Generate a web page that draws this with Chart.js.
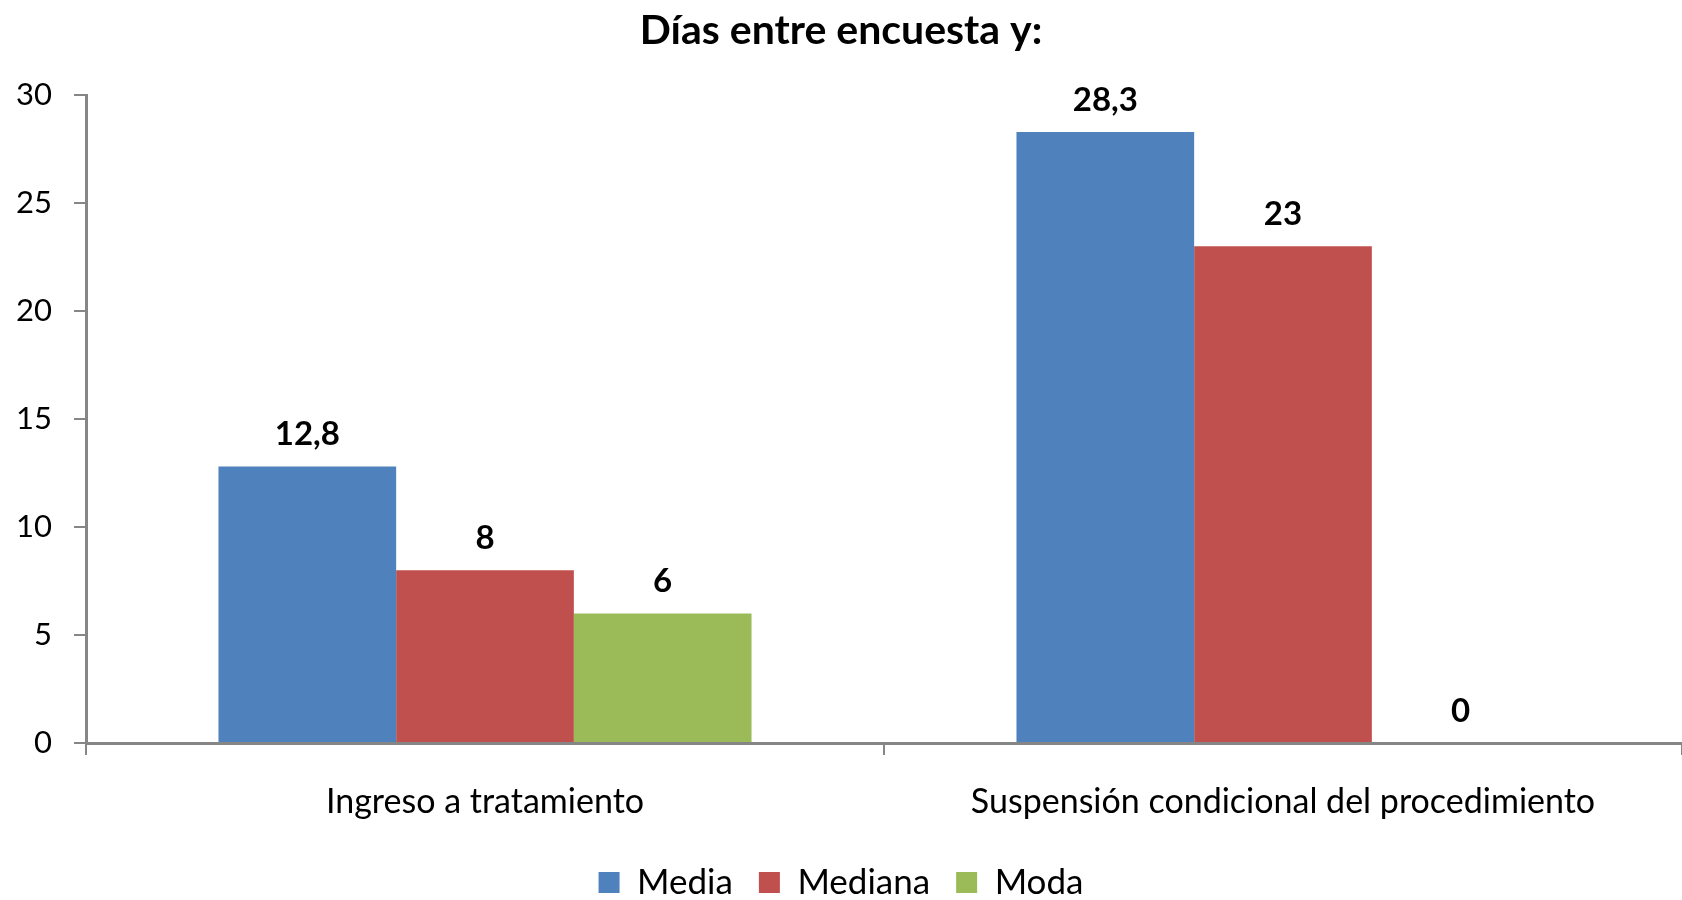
<!DOCTYPE html>
<html>
<head>
<meta charset="utf-8">
<script src="https://cdn.jsdelivr.net/npm/chart.js@4.4.0/dist/chart.umd.min.js"></script>
<style>
  body { margin: 0; background: #fff; }
  #wrap { width: 1682px; height: 900px; }
</style>
</head>
<body>
<div id="wrap"><canvas id="diasChart" width="1682" height="900"></canvas></div>
<script>
// data
let categories = ["Ingreso a tratamiento", "Suspensión condicional del procedimiento"];
let media = [12.8, 28.3];
let mediana = [8, 23];
let moda = [6, 0];
let yTicks = [0, 5, 10, 15, 20, 25, 30];

let axisGrey = "#868686";

// writes the value above each bar, with a decimal comma
let valueLabels = {
    id: "valueLabels",
    afterDatasetsDraw(chart) {
        let ctx = chart.ctx;
        ctx.save();
        ctx.font = "bold 33px Lato";
        ctx.fillStyle = "#000";
        ctx.textAlign = "center";
        ctx.textBaseline = "middle";
        chart.data.datasets.forEach((ds, i) => {
            chart.getDatasetMeta(i).data.forEach((bar, j) => {
                let txt = String(ds.data[j]).replace(".", ",");
                ctx.fillText(txt, bar.x, bar.y - 32);
            });
        });
        ctx.restore();
    }
};

let ctx = document.getElementById("diasChart").getContext("2d");
let chart = new Chart(ctx, {
    type: "bar",
    data: {
        labels: categories,
        datasets: [
            { label: "Media", data: media, backgroundColor: "#4F81BD" },
            { label: "Mediana", data: mediana, backgroundColor: "#C0504D" },
            { label: "Moda", data: moda, backgroundColor: "#9BBB59" }
        ]
    },
    options: {
        responsive: false,
        animation: false,
        layout: { padding: { left: 0, right: 0, top: 0, bottom: -10 } },
        datasets: {
            bar: { categoryPercentage: 0.668, barPercentage: 1.0, borderWidth: 0 }
        },
        plugins: {
            title: {
                display: true,
                text: "Días entre encuesta y:",
                color: "#000",
                font: { family: "Lato", size: 41, weight: "bold" },
                padding: { top: 6, bottom: 40 }
            },
            legend: {
                position: "bottom",
                labels: {
                    color: "#000",
                    font: { family: "Lato", size: 35 },
                    boxWidth: 21,
                    boxHeight: 21,
                    padding: 26
                }
            },
            tooltip: { enabled: false }
        },
        scales: {
            x: {
                afterFit(axis) {
                    axis.height = 96;
                },
                grid: {
                    display: true,
                    drawOnChartArea: false,
                    drawTicks: true,
                    tickLength: 12,
                    color: axisGrey,
                    lineWidth: 2
                },
                border: { color: axisGrey, width: 3 },
                ticks: {
                    color: "#000",
                    font: { family: "Lato", size: 34 },
                    padding: 27
                }
            },
            y: {
                min: 0,
                max: 30,
                afterBuildTicks(axis) {
                    axis.ticks = yTicks.map(v => ({ value: v }));
                },
                afterFit(axis) {
                    axis.width = 86;
                },
                grid: {
                    display: true,
                    drawOnChartArea: false,
                    drawTicks: true,
                    tickLength: 12,
                    color: axisGrey,
                    lineWidth: 2
                },
                border: { color: axisGrey, width: 3 },
                ticks: {
                    color: "#000",
                    font: { family: "Lato", size: 31 },
                    padding: 22
                }
            }
        }
    },
    plugins: [valueLabels]
});
</script>
</body>
</html>
